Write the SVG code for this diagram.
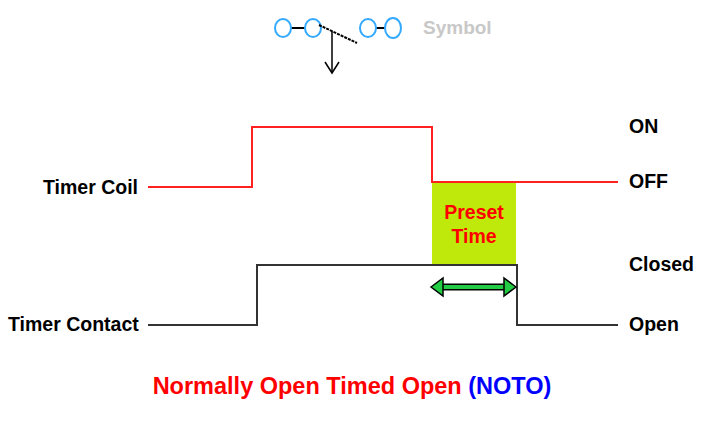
<svg xmlns="http://www.w3.org/2000/svg" width="720" height="433" viewBox="0 0 720 433">
<style>
text{font-family:"Liberation Sans",Arial,sans-serif;font-weight:bold}
.lbl{font-size:19.5px;fill:#000}
.c{fill:#fff;stroke:#33aaff;stroke-width:2}
</style>
<rect width="720" height="433" fill="#fff"/>
<g id="symbol">
<line x1="291" y1="28" x2="305" y2="28" stroke="#000" stroke-width="2"/>
<line x1="376" y1="28" x2="385" y2="28" stroke="#000" stroke-width="2"/>
<ellipse class="c" cx="283" cy="28" rx="8" ry="9"/>
<ellipse class="c" cx="313" cy="28" rx="8" ry="9"/>
<ellipse class="c" cx="368" cy="28" rx="8" ry="9"/>
<ellipse class="c" cx="393" cy="28" rx="8" ry="10"/>
<line x1="319" y1="25" x2="357" y2="43" stroke="#000" stroke-width="2" stroke-dasharray="3,1"/>
<line x1="332" y1="31" x2="332" y2="73" stroke="#000" stroke-width="1.5"/>
<polyline points="325,62 332,73 339,62" fill="none" stroke="#000" stroke-width="1.5"/>
<text x="423" y="34" font-size="19" fill="#c8c8c8">Symbol</text>
</g>
<g id="preset">
<rect x="432" y="182" width="84" height="83" fill="#bfe80b"/>
<text x="474" y="219" font-size="19.5" fill="#ff0000" text-anchor="middle">Preset</text>
<text x="474" y="243" font-size="19.5" fill="#ff0000" text-anchor="middle">Time</text>
</g>
<g id="connectors">
<polyline points="148,187 252,187 252,127 432,127 432,182 618,182" fill="none" stroke="#ff2020" stroke-width="2"/>
<polyline points="148,325 257,325 257,265 517,265 517,325 618,325" fill="none" stroke="#333" stroke-width="2"/>
<line x1="440" y1="287" x2="508" y2="287" stroke="#000" stroke-width="7"/>
<line x1="440" y1="287" x2="508" y2="287" stroke="#22cc44" stroke-width="4"/>
<polygon points="431,287 443,278 443,296" fill="#22cc44" stroke="#000" stroke-width="1.5"/>
<polygon points="516,287 504,278 504,296" fill="#22cc44" stroke="#000" stroke-width="1.5"/>
</g>
<g id="labels">
<text class="lbl" x="43" y="194">Timer Coil</text>
<text class="lbl" x="8" y="331">Timer Contact</text>
<text class="lbl" x="629" y="133">ON</text>
<text class="lbl" x="629" y="188">OFF</text>
<text class="lbl" x="629" y="271">Closed</text>
<text class="lbl" x="629" y="331">Open</text>
<text x="352" y="394" font-size="23.5" text-anchor="middle" fill="#ff0000">Normally Open Timed Open <tspan fill="#0000ff">(NOTO)</tspan></text>
</g>
</svg>
